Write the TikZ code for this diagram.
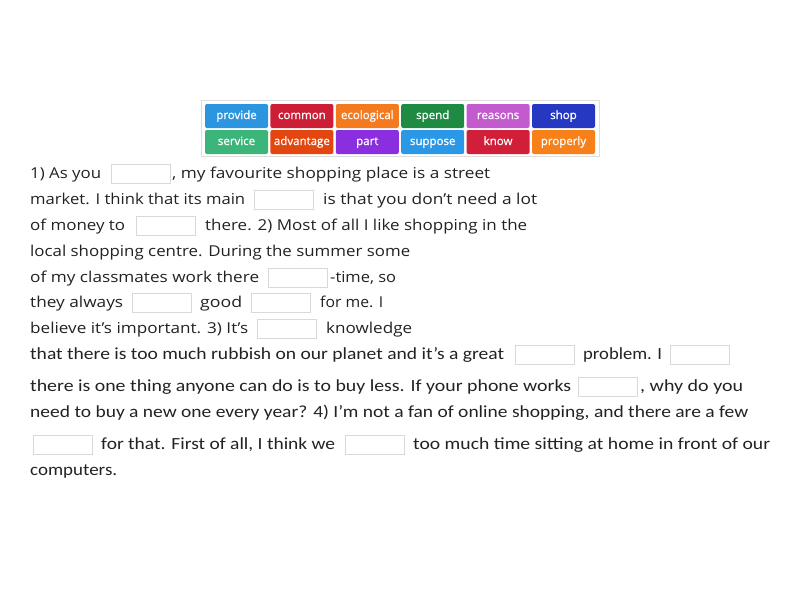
\documentclass[tikz,border=0pt]{standalone}
\usepackage{fontspec}
\usepackage{graphicx}
\setmainfont{Open Sans}
\newfontfamily\calfont{Carlito}
\newfontfamily\tilefont{Open Sans}[FakeBold=0.8]
\definecolor{ink}{HTML}{222222}
\definecolor{gapline}{HTML}{D9D9D9}
\definecolor{panelline}{HTML}{DDDDDD}
\definecolor{cprovide}{HTML}{2B95E0}
\definecolor{ccommon}{HTML}{CC1E36}
\definecolor{cecological}{HTML}{F47A20}
\definecolor{cspend}{HTML}{1E8A42}
\definecolor{creasons}{HTML}{C35BCF}
\definecolor{cshop}{HTML}{2638C2}
\definecolor{cservice}{HTML}{3BB57A}
\definecolor{cadvantage}{HTML}{E4460F}
\definecolor{cpart}{HTML}{8B2EE0}
\definecolor{csuppose}{HTML}{2A98E6}
\definecolor{cknow}{HTML}{D11E39}
\definecolor{cproperly}{HTML}{F8801A}
% squeeze a text run to a given width, keep its height
\newcommand{\fitw}[2]{\resizebox{#1pt}{\height}{#2}}

\begin{document}
\begin{tikzpicture}[x=1pt, y=-1pt]
            \tikzset{tile/.style={rounded corners=2pt, minimum width=63pt, minimum height=24pt, inner sep=0pt, text height=8.5pt, text depth=2.5pt, text=white, font=\tilefont\fontsize{11.5}{12}\selectfont}}
            \tikzset{gap/.style={draw=gapline, fill=white, line width=0.8pt, minimum width=59pt, minimum height=19pt, inner sep=0pt}}
            \tikzset{passage/.style={anchor=base west, inner sep=0pt, text=ink, font=\fontsize{15}{18}\selectfont}}
            \tikzset{cpassage/.style={passage, font=\calfont\fontsize{17}{20}\selectfont}}
            \useasboundingbox (0, 0) rectangle (800, 600);
            % word bank
            \draw[panelline, line width=0.8pt, fill=white] (201, 100) rectangle (599, 156);
            \node[tile, fill=cprovide] (provide) at (236.5, 116) {provide};
            \node[tile, fill=ccommon] (common) at (301.9, 116) {common};
            \node[tile, fill=cecological] (ecological) at (367.3, 116) {ecological};
            \node[tile, fill=cspend] (spend) at (432.7, 116) {spend};
            \node[tile, fill=creasons] (reasons) at (498.1, 116) {reasons};
            \node[tile, fill=cshop] (shop) at (563.5, 116) {shop};
            \node[tile, fill=cservice] (service) at (236.5, 142) {service};
            \node[tile, fill=cadvantage] (advantage) at (301.9, 142) {advantage};
            \node[tile, fill=cpart] (part) at (367.3, 142) {part};
            \node[tile, fill=csuppose] (suppose) at (432.7, 142) {suppose};
            \node[tile, fill=cknow] (know) at (498.1, 142) {know};
            \node[tile, fill=cproperly] (properly) at (563.5, 142) {properly};
            % passage
            \node[passage] (l1a) at (30, 178) {\fitw{71}{1) As you}};
            \node[gap] (g1) at (140.5, 173.5) {};
            \node[passage] (l1b) at (172, 178) {\fitw{318}{, my favourite shopping place is a street}};
            \node[passage] (l2a) at (30, 204) {\fitw{215}{market. I think that its main}};
            \node[gap] (g2) at (283.5, 199.5) {};
            \node[passage] (l2b) at (323, 204) {\fitw{214}{is that you don’t need a lot}};
            \node[passage] (l3a) at (30, 230) {\fitw{95}{of money to}};
            \node[gap] (g3) at (165.5, 225.5) {};
            \node[passage] (l3b) at (205, 230) {\fitw{322}{there. 2) Most of all I like shopping in the}};
            \node[passage] (l4) at (30, 256) {\fitw{380}{local shopping centre. During the summer some}};
            \node[passage] (l5a) at (30, 282) {\fitw{229}{of my classmates work there}};
            \node[gap] (g4) at (297.5, 277.5) {};
            \node[passage] (l5b) at (330, 282) {\fitw{66}{-time, so}};
            \node[passage] (l6a) at (30, 307) {\fitw{93}{they always}};
            \node[gap] (g5) at (161.5, 302.5) {};
            \node[passage] (l6b) at (200, 307) {\fitw{42}{good}};
            \node[gap] (g6) at (281, 302.5) {};
            \node[passage] (l6c) at (320, 307) {\fitw{63}{for me. I}};
            \node[passage] (l7a) at (30, 333) {\fitw{218}{believe it’s important. 3) It’s}};
            \node[gap] (g7) at (286.5, 328.5) {};
            \node[passage] (l7b) at (326, 333) {\fitw{86}{knowledge}};
            \node[cpassage] (l8a) at (30, 359) {\fitw{474}{that there is too much rubbish on our planet and it’s a great}};
            \node[gap] (g8) at (544.5, 354.5) {};
            \node[cpassage] (l8b) at (583, 359) {\fitw{79}{problem. I}};
            \node[gap] (g9) at (699.5, 354.5) {};
            \node[cpassage] (l9a) at (30, 391) {\fitw{541}{there is one thing anyone can do is to buy less. If your phone works}};
            \node[gap] (g10) at (607.5, 386.5) {};
            \node[cpassage] (l9b) at (640, 391) {\fitw{103}{, why do you}};
            \node[cpassage] (l10) at (30, 417) {\fitw{718}{need to buy a new one every year? 4) I’m not a fan of online shopping, and there are a few}};
            \node[gap] (g11) at (62.5, 444.5) {};
            \node[cpassage] (l11a) at (101, 449) {\fitw{234}{for that. First of all, I think we}};
            \node[gap] (g12) at (374.5, 444.5) {};
            \node[cpassage] (l11b) at (413, 449) {\fitw{357}{too much time sitting at home in front of our}};
            \node[cpassage] (l12) at (30, 475) {\fitw{87}{computers.}};
        \end{tikzpicture}
\end{document}
